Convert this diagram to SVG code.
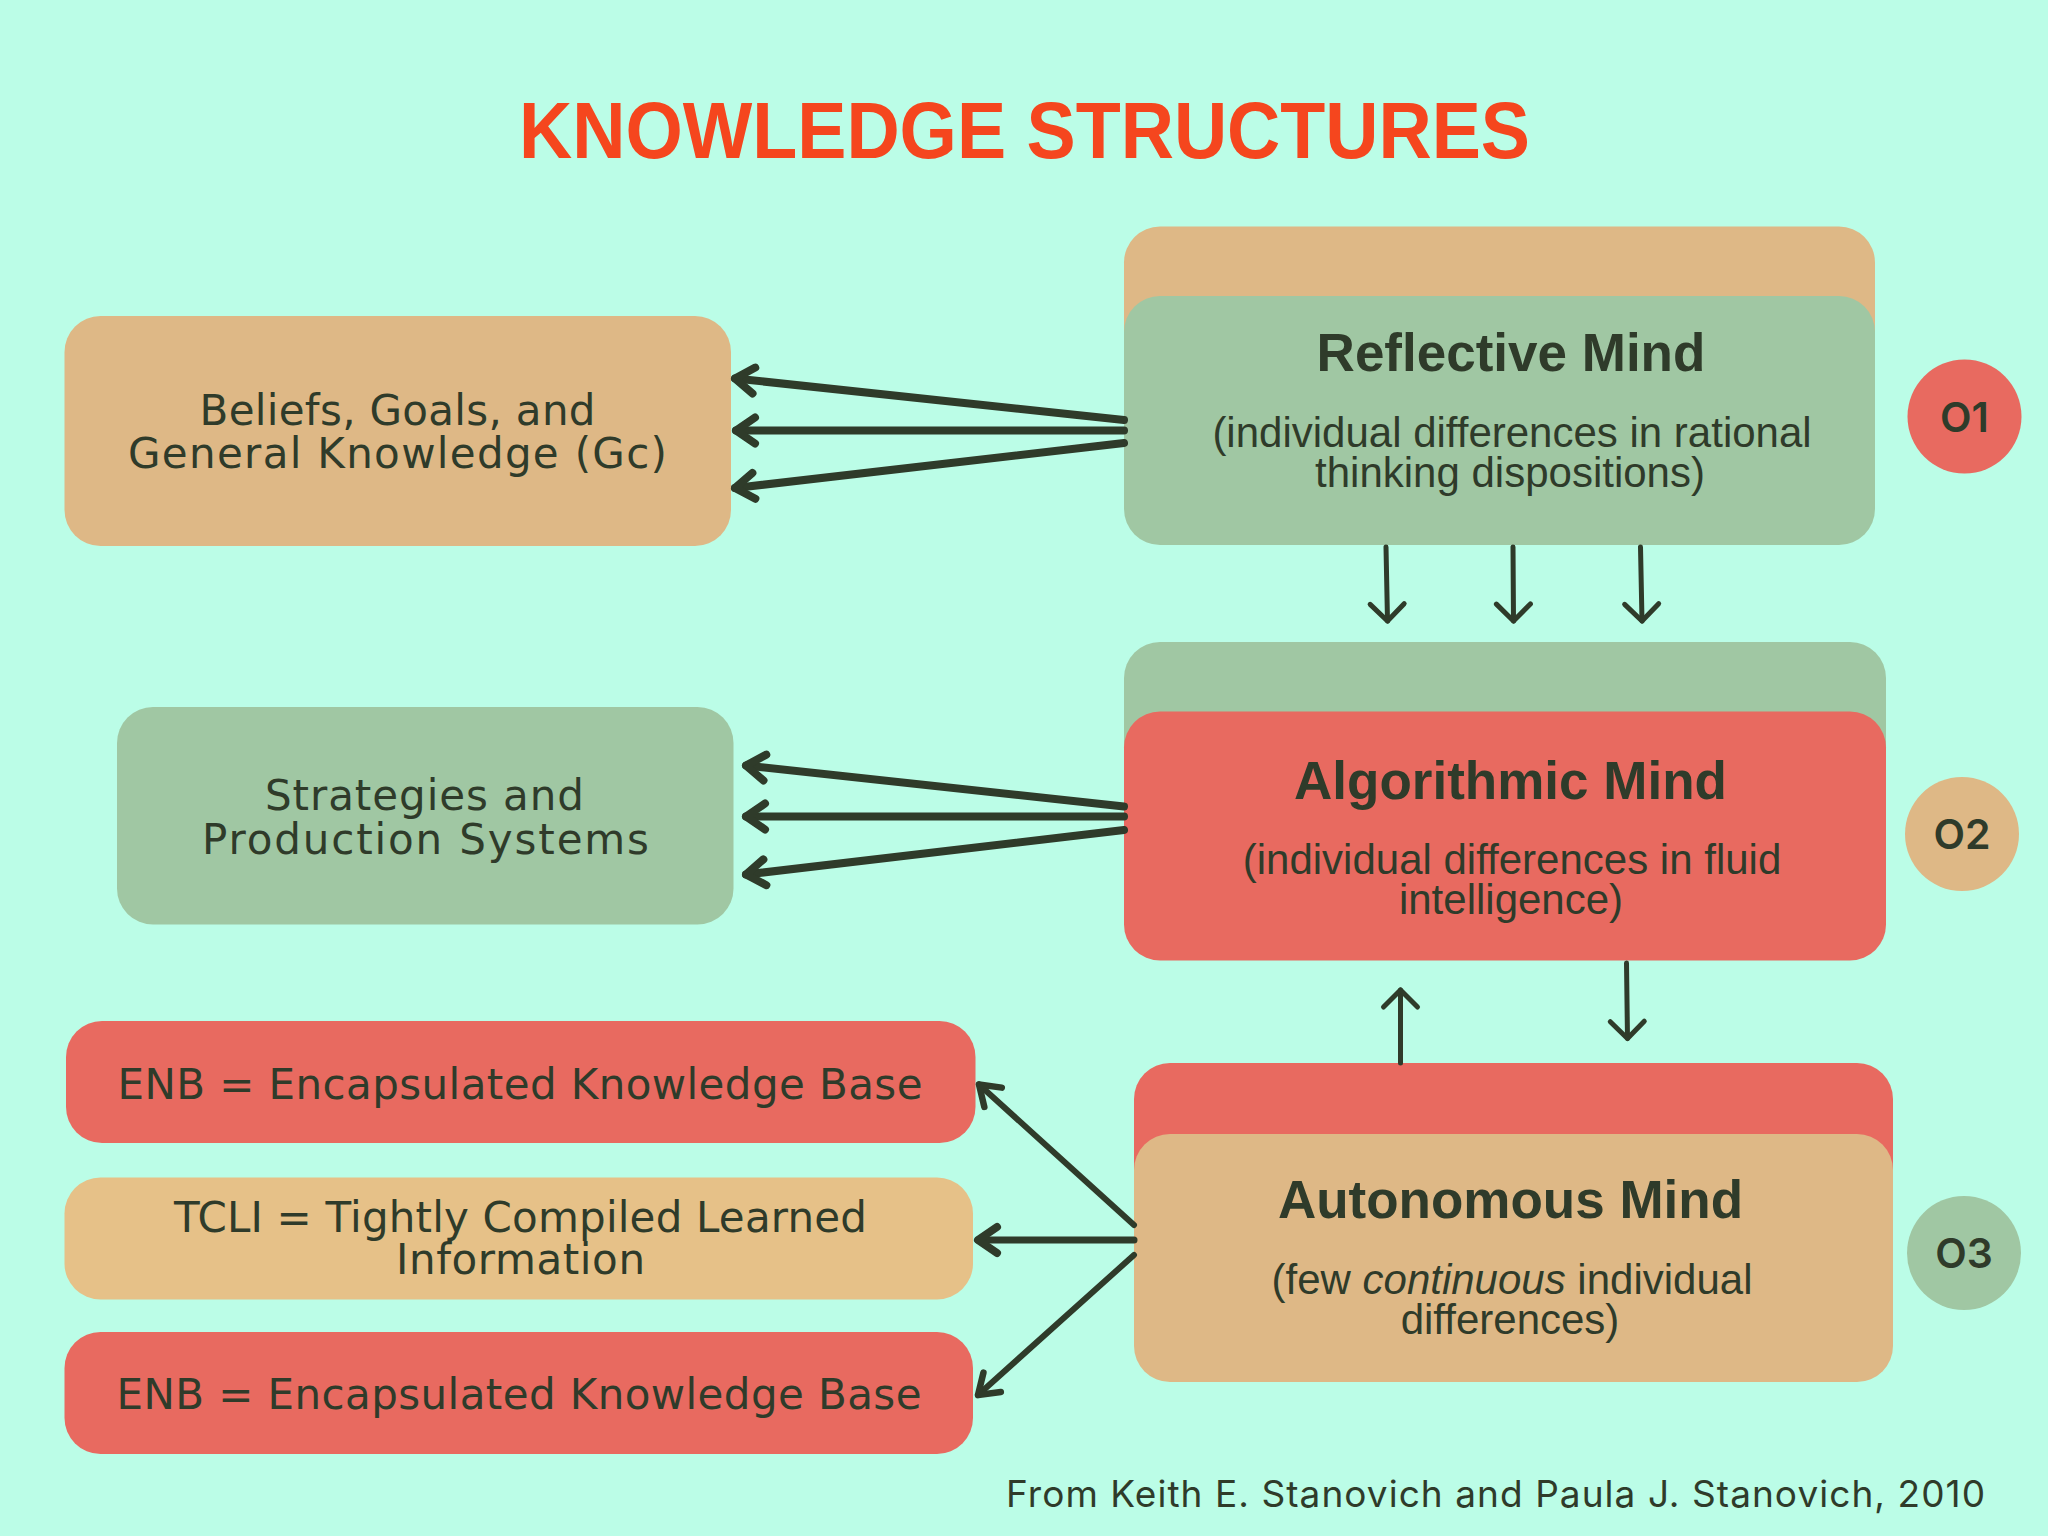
<svg xmlns="http://www.w3.org/2000/svg" width="2048" height="1536" viewBox="0 0 2048 1536">
<defs>
<style>
.tan{fill:#DEB886}
.tan2{fill:#E6C188}
.green{fill:#A0C7A3}
.red{fill:#E86A60}
.lbl{font-family:"DejaVu Sans","Liberation Sans",sans-serif;font-size:42px;fill:#2F3B2A;text-anchor:middle}
.mt{font-family:"Liberation Sans",Arial,sans-serif;font-weight:700;font-size:53px;fill:#2F3B2A;text-anchor:middle}
.ms{font-family:"Liberation Sans",Arial,sans-serif;font-size:42px;fill:#2F3B2A;text-anchor:middle}
.num{font-family:Inter,"Liberation Sans",sans-serif;font-weight:600;font-size:41px;fill:#2F3B2A;text-anchor:middle}
.w8{stroke:#2F3B2A;stroke-width:8;stroke-linecap:round;fill:none}
.w7{stroke:#2F3B2A;stroke-width:7;stroke-linecap:round;fill:none}
.w6{stroke:#2F3B2A;stroke-width:6;stroke-linecap:round;fill:none}
.w5{stroke:#2F3B2A;stroke-width:5;stroke-linecap:round;fill:none}
</style>
<marker id="h8" markerUnits="userSpaceOnUse" orient="auto" markerWidth="60" markerHeight="60" refX="0" refY="0" overflow="visible">
<path d="M-19,-13 L0,0 L-19,13" fill="none" stroke="#2F3B2A" stroke-width="8" stroke-linecap="round" stroke-linejoin="round"/>
</marker>
<marker id="h6" markerUnits="userSpaceOnUse" orient="auto" markerWidth="60" markerHeight="60" refX="0" refY="0" overflow="visible">
<path d="M-19,-13 L0,0 L-19,13" fill="none" stroke="#2F3B2A" stroke-width="6.5" stroke-linecap="round" stroke-linejoin="round"/>
</marker>
<marker id="h5" markerUnits="userSpaceOnUse" orient="auto" markerWidth="60" markerHeight="60" refX="0" refY="0" overflow="visible">
<path d="M-17,-17 L0,0 L-17,17" fill="none" stroke="#2F3B2A" stroke-width="5" stroke-linecap="round" stroke-linejoin="round"/>
</marker>
</defs>
<rect x="0" y="0" width="2048" height="1536" fill="#BBFDE7"/>

<text id="title" x="519" y="158" textLength="1011" lengthAdjust="spacingAndGlyphs" style="font-family:'Liberation Sans',Arial,sans-serif;font-weight:700;font-size:79px;fill:#F5461E">KNOWLEDGE STRUCTURES</text>

<g id="beliefs">
<rect class="tan" x="64.5" y="316" width="666.5" height="230" rx="36"/>
<text class="lbl" x="397.5" y="425" textLength="396">Beliefs, Goals, and</text>
<text class="lbl" x="397.5" y="468" textLength="539">General Knowledge (Gc)</text>
</g>

<g id="strategies">
<rect class="green" x="117" y="707" width="616.5" height="217.5" rx="36"/>
<text class="lbl" x="424.5" y="810" textLength="319">Strategies and</text>
<text class="lbl" x="425.5" y="854" textLength="447">Production Systems</text>
</g>

<g id="enb1">
<rect class="red" x="66" y="1021" width="909.5" height="122" rx="36"/>
<text class="lbl" x="520" y="1099" textLength="805">ENB = Encapsulated Knowledge Base</text>
</g>

<g id="tcli">
<rect class="tan2" x="64.5" y="1177.5" width="908.5" height="122" rx="36"/>
<text class="lbl" x="520.5" y="1231.5" textLength="693">TCLI = Tightly Compiled Learned</text>
<text class="lbl" x="520.5" y="1273.5" textLength="249">Information</text>
</g>

<g id="enb2">
<rect class="red" x="64.5" y="1332" width="908.5" height="122" rx="36"/>
<text class="lbl" x="519" y="1409" textLength="805">ENB = Encapsulated Knowledge Base</text>
</g>

<g id="reflective">
<rect class="tan" x="1124" y="226.5" width="751" height="220" rx="36"/>
<rect class="green" x="1124" y="296" width="751" height="249" rx="36"/>
<text class="mt" x="1511" y="371">Reflective Mind</text>
<text class="ms" x="1512" y="447">(individual differences in rational</text>
<text class="ms" x="1510" y="487">thinking dispositions)</text>
</g>

<g id="algorithmic">
<rect class="green" x="1124" y="642" width="762" height="220" rx="36"/>
<rect class="red" x="1124" y="711.5" width="762" height="249" rx="36"/>
<text class="mt" x="1510.5" y="799">Algorithmic Mind</text>
<text class="ms" x="1512" y="874">(individual differences in fluid</text>
<text class="ms" x="1511" y="913.5">intelligence)</text>
</g>

<g id="autonomous">
<rect class="red" x="1134" y="1063" width="759" height="220" rx="36"/>
<rect class="tan" x="1134" y="1134" width="759" height="248" rx="36"/>
<text class="mt" x="1510.5" y="1218">Autonomous Mind</text>
<text class="ms" x="1512" y="1293.5">(few <tspan font-style="italic">continuous</tspan> individual</text>
<text class="ms" x="1510" y="1333.5">differences)</text>
</g>

<g id="o1">
<circle class="red" cx="1964.5" cy="416.5" r="57"/>
<text class="num" x="1964.5" y="431.5">O1</text>
</g>
<g id="o2">
<circle class="tan" cx="1962" cy="834" r="57"/>
<text class="num" x="1962" y="849">O2</text>
</g>
<g id="o3">
<circle class="green" cx="1964" cy="1253" r="57"/>
<text class="num" x="1964" y="1268">O3</text>
</g>

<g id="connectors">
<line class="w8" x1="1124" y1="420" x2="735" y2="378.5" marker-end="url(#h8)"/>
<line class="w8" x1="1124" y1="430.5" x2="736" y2="430.5" marker-end="url(#h8)"/>
<line class="w8" x1="1124" y1="443" x2="735" y2="488" marker-end="url(#h8)"/>

<line class="w8" x1="1124" y1="806.5" x2="746" y2="765.5" marker-end="url(#h8)"/>
<line class="w8" x1="1124" y1="816.5" x2="746" y2="816.5" marker-end="url(#h8)"/>
<line class="w8" x1="1124" y1="830" x2="746" y2="874.5" marker-end="url(#h8)"/>

<line class="w5" x1="1386" y1="547" x2="1387.5" y2="621" marker-end="url(#h5)"/>
<line class="w5" x1="1513" y1="547" x2="1513.5" y2="621" marker-end="url(#h5)"/>
<line class="w5" x1="1640.5" y1="547" x2="1642" y2="621" marker-end="url(#h5)"/>

<line class="w5" x1="1400.5" y1="1063" x2="1400.5" y2="990" marker-end="url(#h5)"/>
<line class="w5" x1="1626.5" y1="963" x2="1627.5" y2="1038.5" marker-end="url(#h5)"/>

<line class="w6" x1="1134" y1="1225" x2="979" y2="1084.5" marker-end="url(#h6)"/>
<line class="w7" x1="1134" y1="1240" x2="978" y2="1240" marker-end="url(#h8)"/>
<line class="w6" x1="1134" y1="1255" x2="978" y2="1395" marker-end="url(#h6)"/>
</g>

<text id="footer" x="1006" y="1506.5" textLength="979" style="font-family:Inter,'Liberation Sans',sans-serif;font-size:37px;fill:#2F3B2A">From Keith E. Stanovich and Paula J. Stanovich, 2010</text>
</svg>
